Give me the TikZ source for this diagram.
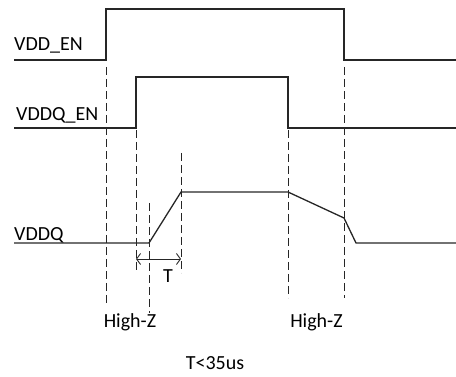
\documentclass[tikz,border=0pt]{standalone}
\usepackage{fontspec}
\setmainfont{Carlito}
\usepackage{tikz}
\usetikzlibrary{arrows.meta, positioning}

\begin{document}
\begin{tikzpicture}[
    x=1pt, y=-1pt,
    signal/.style={line width=1.3pt, color=black!85, line join=miter},
    guide/.style={line width=0.9pt, color=black!85,
      dash pattern=on 8pt off 4pt},
    label/.style={font=\fontsize{20}{24}\selectfont, inner sep=0pt,
      anchor=base west},
    note/.style={font=\fontsize{20}{24}\selectfont, inner sep=0pt},
    arrow/.style={{Straight Barb[length=4pt, width=11pt]}-{Straight Barb[length=4pt, width=11pt]},
      line width=0.9pt, color=black!85},
]
\useasboundingbox (0,0) rectangle (456,377);
% signal names
\node[label] (vddenname) at (14, 50.5) {VDD\_EN};
\node[label] (vddqenname) at (16, 121) {VDDQ\_EN};
\node[label] (vddqname) at (14, 241) {VDDQ};
% waveforms
\draw[signal] (14,60) -- (106,60) -- (106,9) -- (344,9) -- (344,60) -- (456,60);
\draw[signal] (14,128) -- (136,128) -- (136,77) -- (288,77) -- (288,128) -- (456,128);
\draw[signal] (14,243) -- (149,243) -- (181,192) -- (288,192) -- (344,218)
    -- (356,243) -- (456,243);
% guides
\draw[guide] (106,67) -- (106,303);
\draw[guide] (136,130) -- (136,273);
\draw[guide] (149,203) -- (149,313);
\draw[guide] (181,153) -- (181,273);
\draw[guide] (288,130) -- (288,298);
\draw[guide] (344,67) -- (344,298);
% ramp time
\coordinate (tstart) at (136,259);
\coordinate (tend) at (181,259);
\draw[arrow] (tstart) -- (tend);
\node[note] (tlabel) at (168,276) {T};
\node[note] (highz1) at (130,322) {High-Z};
\node[note] (highz2) at (316.5,322) {High-Z};
\node[note] (tlimit) at (215,363) {T<35us};
\end{tikzpicture}
\end{document}
